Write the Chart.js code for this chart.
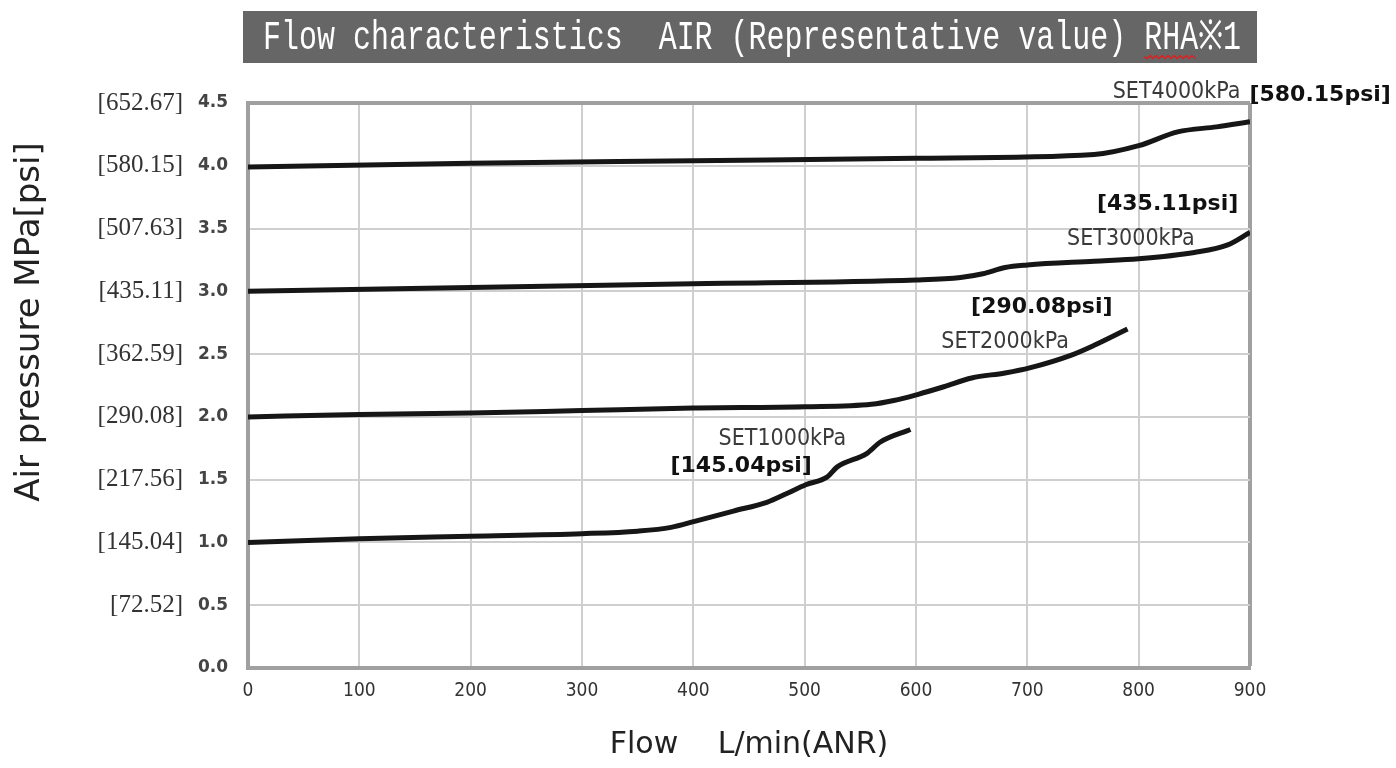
<!DOCTYPE html>
<html>
<head>
<meta charset="utf-8">
<script src="https://cdn.jsdelivr.net/npm/chart.js@4.4.1/dist/chart.umd.min.js"></script>
<style>
html, body { margin: 0; padding: 0; background: #fff; }
</style>
</head>
<body>
<canvas id="flowChart" width="1396" height="768"></canvas>
<script>
// Werte (Flow L/min, Druck MPa)
var flow1000 = [0, 100, 200, 300, 350, 380, 402, 436, 466, 484, 501, 520, 529, 556, 568, 595];
var pres1000 = [1.00, 1.03, 1.05, 1.07, 1.09, 1.12, 1.17, 1.25, 1.32, 1.39, 1.46, 1.52, 1.60, 1.71, 1.80, 1.90];

var flow2000 = [0, 100, 200, 300, 400, 500, 560, 580, 602, 625, 650, 680, 702, 739, 760, 790];
var pres2000 = [2.00, 2.02, 2.03, 2.05, 2.07, 2.08, 2.10, 2.13, 2.18, 2.24, 2.31, 2.35, 2.39, 2.49, 2.57, 2.70];

var flow3000 = [0, 200, 400, 600, 640, 660, 680, 700, 760, 800, 850, 880, 900];
var pres3000 = [3.00, 3.03, 3.06, 3.09, 3.11, 3.14, 3.19, 3.21, 3.24, 3.26, 3.31, 3.37, 3.47];

var flow4000 = [0, 200, 400, 600, 760, 800, 835, 870, 900];
var pres4000 = [3.99, 4.02, 4.04, 4.06, 4.09, 4.16, 4.27, 4.31, 4.35];

var psiTicks = ['', '[72.52]', '[145.04]', '[217.56]', '[290.08]', '[362.59]', '[435.11]', '[507.63]', '[580.15]', '[652.67]'];

var chartTitle = 'Flow characteristics  AIR (Representative value) RHA\u203B1';
var yTitle = 'Air pressure MPa[psi]';

// Beschriftungen an den Kurven (Position in Datenkoordinaten)
var curveLabels = [
    { text: 'SET4000kPa', x: 834, y: 4.59, bold: false },
    { text: '[580.15psi]', x: 963, y: 4.56, bold: true },
    { text: '[435.11psi]', x: 826, y: 3.69, bold: true },
    { text: 'SET3000kPa', x: 793, y: 3.42, bold: false },
    { text: '[290.08psi]', x: 713, y: 2.87, bold: true },
    { text: 'SET2000kPa', x: 680, y: 2.60, bold: false },
    { text: 'SET1000kPa', x: 480, y: 1.82, bold: false },
    { text: '[145.04psi]', x: 443, y: 1.61, bold: true }
];

function toPoints(xs, ys) {
    return xs.map(function(x, i) { return { x: x, y: ys[i] }; });
}

function lineSet(label, xs, ys) {
    return {
        label: label,
        data: toPoints(xs, ys),
        borderColor: '#161616',
        borderWidth: 5,
        pointRadius: 0,
        fill: false,
        cubicInterpolationMode: 'monotone'
    };
}

var decoPlugin = {
    id: 'deco',
    afterDraw: function(chart) {
        var ctx = chart.ctx;
        var area = chart.chartArea;
        var xs = chart.scales.x;
        var ys = chart.scales.y;

        // Titelbalken
        var boxL = area.left - 5, boxR = area.right + 7;
        ctx.save();
        ctx.fillStyle = '#666666';
        ctx.fillRect(boxL, 11, boxR - boxL, 52);
        ctx.font = '41px "Liberation Mono", "DejaVu Sans Mono", monospace';
        ctx.fillStyle = '#ffffff';
        ctx.textBaseline = 'middle';
        ctx.textAlign = 'left';
        var tx = boxL + 20, maxW = 978;
        var full = ctx.measureText(chartTitle).width;
        var k = Math.min(1, maxW / full);
        ctx.fillText(chartTitle, tx, 38, maxW);
        // rote Wellenlinie unter "RHA"
        var pre = chartTitle.indexOf('RHA');
        var x0 = tx + ctx.measureText(chartTitle.slice(0, pre)).width * k;
        var x1 = x0 + ctx.measureText('RHA').width * k;
        ctx.strokeStyle = '#e02020';
        ctx.lineWidth = 1.5;
        ctx.beginPath();
        for (var px = x0, up = true; px <= x1; px += 3, up = !up) {
            if (px === x0) ctx.moveTo(px, 57); else ctx.lineTo(px, up ? 55.5 : 58.5);
        }
        ctx.stroke();
        ctx.restore();

        // Y-Achsentitel
        ctx.save();
        ctx.translate(30, 322);
        ctx.rotate(-Math.PI / 2);
        ctx.font = '34px "DejaVu Sans", Verdana, sans-serif';
        ctx.fillStyle = '#222';
        ctx.textAlign = 'center';
        ctx.textBaseline = 'middle';
        ctx.fillText(yTitle, 0, 0, 366);
        ctx.restore();

        // Kurvenbeschriftungen
        ctx.save();
        ctx.textAlign = 'center';
        ctx.textBaseline = 'middle';
        curveLabels.forEach(function(l) {
            var px = xs.getPixelForValue(l.x);
            var py = ys.getPixelForValue(l.y);
            if (l.bold) {
                ctx.font = 'bold 22px "DejaVu Sans", Verdana, sans-serif';
                ctx.fillStyle = '#111';
                ctx.fillText(l.text, px, py, 143);
            } else {
                ctx.font = '23px "Liberation Sans Narrow", "DejaVu Sans Condensed", "Noto Sans", sans-serif';
                ctx.fillStyle = '#3a3a3a';
                ctx.fillText(l.text, px, py, 132);
            }
        });
        ctx.restore();
    }
};

var edgeColor = '#a0a0a0';

var ctx = document.getElementById('flowChart').getContext('2d');
var chart = new Chart(ctx, {
    type: 'line',
    data: {
        datasets: [
            lineSet('SET1000kPa', flow1000, pres1000),
            lineSet('SET2000kPa', flow2000, pres2000),
            lineSet('SET3000kPa', flow3000, pres3000),
            lineSet('SET4000kPa', flow4000, pres4000)
        ]
    },
    plugins: [decoPlugin],
    options: {
        responsive: false,
        animation: false,
        layout: { padding: { top: 103, right: 146, left: 0, bottom: 0 } },
        plugins: {
            legend: { display: false },
            tooltip: { enabled: false }
        },
        scales: {
            x: {
                type: 'linear',
                min: 0,
                max: 900,
                afterFit: function(s) { s.height = 100; },
                ticks: {
                    stepSize: 100,
                    padding: 12,
                    color: '#333',
                    font: { family: '"Liberation Sans Narrow", "DejaVu Sans Condensed", sans-serif', size: 19 }
                },
                grid: {
                    drawTicks: false,
                    color: function(c) { return c.tick && c.tick.value === 900 ? edgeColor : '#cfcfcf'; },
                    lineWidth: function(c) { return c.tick && c.tick.value === 900 ? 4 : 2; }
                },
                border: { color: edgeColor, width: 4 },
                title: {
                    display: true,
                    text: 'Flow\u3000 L/min(ANR)',
                    color: '#222',
                    font: { family: '"DejaVu Sans", Verdana, sans-serif', size: 30 },
                    padding: { top: 0, bottom: 5 }
                }
            },
            y: {
                position: 'left',
                weight: 0,
                min: 0,
                max: 4.5,
                afterFit: function(s) { s.width = 50; },
                ticks: {
                    stepSize: 0.5,
                    padding: 20,
                    color: '#444',
                    font: { family: '"DejaVu Sans", Verdana, sans-serif', size: 17, weight: 'bold' },
                    callback: function(v) { return v.toFixed(1); }
                },
                grid: {
                    drawTicks: false,
                    color: function(c) { return c.tick && c.tick.value === 4.5 ? edgeColor : '#cfcfcf'; },
                    lineWidth: function(c) { return c.tick && c.tick.value === 4.5 ? 4 : 2; }
                },
                border: { color: edgeColor, width: 4 }
            },
            y2: {
                position: 'left',
                weight: 1,
                min: 0,
                max: 4.5,
                afterFit: function(s) { s.width = 198; },
                ticks: {
                    stepSize: 0.5,
                    padding: 15,
                    color: '#333',
                    font: { family: '"Liberation Serif", "Times New Roman", serif', size: 25 },
                    callback: function(v, i) { return psiTicks[i]; }
                },
                grid: { display: false, drawTicks: false },
                border: { display: false }
            }
        }
    }
});
</script>
</body>
</html>
